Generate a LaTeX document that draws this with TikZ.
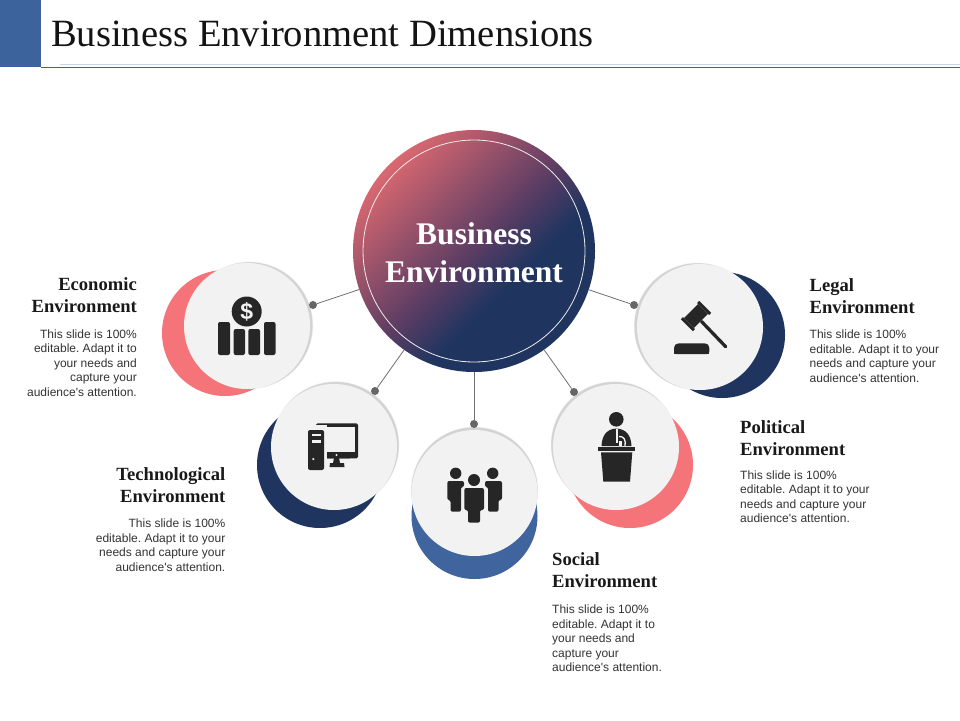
\documentclass[tikz,border=0pt]{standalone}
\usepackage{fontspec}
\setmainfont{Liberation Serif}
\newfontfamily\bodyfont{Liberation Sans}
\usetikzlibrary{calc}
\definecolor{hdrblue}{HTML}{3D639D}
\definecolor{navy}{HTML}{1F3560}
\definecolor{salmon}{HTML}{F57479}
\definecolor{midblue}{HTML}{3F649E}
\definecolor{softgray}{HTML}{F2F2F2}
\definecolor{icondark}{HTML}{262626}
\definecolor{dotgray}{HTML}{666666}
\definecolor{linegray}{HTML}{6F6F6F}
\definecolor{gradpink}{HTML}{DF6A71}
\definecolor{gradmid}{HTML}{5A3C63}
\definecolor{rulelight}{HTML}{C9D6E2}
\definecolor{ruledark}{HTML}{4D5F7A}
\pgfdeclareverticalshading{bizgrad}{100bp}{color(0bp)=(navy); color(40bp)=(navy); color(50bp)=(gradmid); color(76bp)=(gradpink); color(100bp)=(gradpink)}
\newcommand{\softshadow}[3]{%
  \foreach \r/\o in {63.8/0.02,63.6/0.02,63.4/0.03,63.2/0.03,63/0.04,62.8/0.04}{
    \fill[black,opacity=\o] ($(#1,#2)+(#3:2.6)$) circle[radius=\r];
  }}
\tikzset{
  x=1pt,y=-1pt,
  backdisc/.style={circle,minimum size=126pt,inner sep=0pt,draw=none},
  frontdisc/.style={circle,minimum size=126pt,inner sep=0pt,fill=softgray,draw=none},
  dotnode/.style={circle,minimum size=8pt,inner sep=0pt,fill=dotgray},
  spoke/.style={draw=linegray,line width=0.8pt},
  headtext/.style={font=\fontsize{18.6}{22}\selectfont\bfseries,inner sep=0pt,text=black!90},
  leftlabel/.style={headtext,align=right,anchor=north east},
  rightlabel/.style={headtext,align=left,anchor=north west},
  bodyleft/.style={font=\bodyfont\frenchspacing\fontsize{12}{14.45}\selectfont,inner sep=0pt,align=right,anchor=north east,text=black!80},
  bodyright/.style={font=\bodyfont\frenchspacing\fontsize{12}{14.45}\selectfont,inner sep=0pt,align=left,anchor=north west,text=black!80},
  iconfill/.style={fill=icondark,draw=none},
}
\begin{document}
\begin{tikzpicture}
\useasboundingbox (0,0) rectangle (960,720);
\fill[white] (0,0) rectangle (960,720);
% header
\fill[hdrblue] (0,0) rectangle (41,67);
\coordinate (ruleA) at (41,67.3);
\coordinate (ruleB) at (960,67.3);
\coordinate (ruleC) at (60,64.5);
\coordinate (ruleD) at (960,64.5);
\draw[draw=rulelight,line width=0.8pt] (ruleC) -- (ruleD);
\draw[draw=ruledark,line width=0.9pt] (ruleA) -- (ruleB);
\node[anchor=base west,inner sep=0pt,font=\fontsize{38.6}{40}\selectfont,text=black!92] (title) at (51,46) {Business Environment Dimensions};
% back discs
\node[backdisc,fill=salmon] (ecoback) at (225,333) {};
\node[backdisc,fill=navy] (techback) at (320,465) {};
\node[backdisc,fill=midblue] (socback) at (474.5,516) {};
\node[backdisc,fill=salmon] (polback) at (630,465) {};
\node[backdisc,fill=navy] (legback) at (722,335) {};
% shadows
\softshadow{247}{326}{-15}
\softshadow{334}{447}{-50}
\softshadow{474.5}{493}{-90}
\softshadow{616}{447}{-130}
\softshadow{700}{327}{-165}
% front discs
\node[frontdisc] (eco) at (247,326) {};
\node[frontdisc] (tech) at (334,447) {};
\node[frontdisc] (soc) at (474.5,493) {};
\node[frontdisc] (pol) at (616,447) {};
\node[frontdisc] (leg) at (700,327) {};
% hub
\node[circle,minimum size=242pt,inner sep=0pt,shading=bizgrad,shading angle=45] (hub) at (474,251) {};
\node[circle,minimum size=222pt,inner sep=0pt,draw=white!85!gray,line width=0.8pt] (hubring) at (474,251) {};
\node[align=center,text=white,inner sep=0pt,font=\fontsize{31.5}{38}\selectfont\bfseries] (hubtext) at (474,253) {Business\\Environment};
% dots and connectors
\node[dotnode] (d1) at (313,305) {};
\node[dotnode] (d2) at (375,391) {};
\node[dotnode] (d3) at (474,424) {};
\node[dotnode] (d4) at (574,392) {};
\node[dotnode] (d5) at (634,305) {};
\foreach \d in {d1,d2,d3,d4,d5}{\draw[spoke] (hub) -- (\d);}
% economic icon
\fill[iconfill] (246.7,311.5) circle[radius=15];
\node[font=\bodyfont\bfseries\fontsize{23}{23}\selectfont,text=softgray,inner sep=0pt] (dollar) at (246.7,311.5) {\$};
\foreach \a/\b/\c/\e in {218/230/322/355,233.7/245/329/355,248.3/260/329/355,264/275.5/322/355}{
  \fill[iconfill,rounded corners=2pt] (\a,\c) rectangle (\b,\e);
}
% computer icon
\fill[iconfill,rounded corners=1.5pt] (316,423.3) rectangle (358,458.3);
\fill[softgray] (319.5,427) rectangle (354.5,451.5);
\fill[iconfill,rounded corners=0.5pt] (327,452) rectangle (350,458.3);
\fill[softgray] (336.5,455) circle[radius=1.1];
\fill[iconfill] (334,458) -- (339,458) -- (340,463) -- (344,463) -- (344.5,467) -- (329.5,467) -- (330,463) -- (333,463) -- cycle;
\fill[softgray] (305,425) rectangle (326.5,471);
\fill[iconfill,rounded corners=2pt] (308,430) rectangle (324,470);
\fill[softgray] (311.5,433.5) rectangle (321,436);
\fill[softgray] (311.5,439.5) rectangle (321,442.5);
\fill[softgray] (313.3,459) circle[radius=1.2];
% people icon
\fill[iconfill] (455.7,473.3) circle[radius=5.7];
\fill[iconfill] (492.7,473.3) circle[radius=5.7];
\fill[iconfill,rounded corners=2pt] (447.3,481) -- (464,481) -- (464,487) -- (461,487) -- (461,511.7) -- (450.5,511.7) -- (450.5,500) -- (447.3,500) -- cycle;
\fill[iconfill,rounded corners=2pt] (502,481) -- (485,481) -- (485,487) -- (488,487) -- (488,511.7) -- (498.5,511.7) -- (498.5,500) -- (502,500) -- cycle;
\fill[iconfill] (474,480) circle[radius=6];
\fill[iconfill,rounded corners=2pt] (464.3,488) -- (484,488) -- (484,510) -- (480,510) -- (480,522.7) -- (468,522.7) -- (468,510) -- (464.3,510) -- cycle;
% speaker icon
\fill[iconfill] (616.3,419.3) circle[radius=7.3];
\fill[iconfill] (601.5,446) .. controls (602,435) and (607,429) .. (616.3,428.5) .. controls (626,429) and (631,435) .. (631.5,446) -- cycle;
\fill[softgray] (615.5,429) -- (617.5,429) -- (617.5,443) -- (615.5,443) -- cycle;
\draw[softgray,line width=1.3pt] (619,436.5) .. controls (624,436) and (626,440) .. (625,446);
\fill[softgray] (619,441) -- (622,441) -- (622,446) -- (619,446) -- cycle;
\fill[iconfill] (598,446.7) rectangle (635,451);
\fill[iconfill] (601,452.3) -- (632.3,452.3) -- (630,481.7) -- (603.3,481.7) -- cycle;
% gavel icon
\coordinate (gavelA) at (701.5,321.5);
\coordinate (gavelB) at (725.7,346.7);
\draw[icondark,line width=3.3pt,line cap=round] (gavelA) -- (gavelB);
\fill[iconfill] (698.1,304) -- (708,313.9) -- (693.9,328) -- (684,318.1) -- cycle;
\fill[iconfill] (697.1,302.9) -- (699.2,300.8) -- (711.2,312.8) -- (709.1,314.9) -- cycle;
\fill[iconfill] (682.9,317.1) -- (680.8,319.2) -- (692.8,331.2) -- (694.9,329.1) -- cycle;
\fill[iconfill,rounded corners=2.5pt] (674,354) -- (674,346) -- (677,343.3) -- (706.5,343.3) -- (709.3,346) -- (709.3,354) -- cycle;
\fill[iconfill] (674,350) rectangle (709.3,354);
% labels
\node[leftlabel] (ecot) at (137,277.5) {Economic\\Environment};
\node[bodyleft] (ecob) at (137,329.5) {This slide is 100\%\\editable. Adapt it to\\your needs and\\capture your\\audience's attention.};
\node[leftlabel] (techt) at (225.5,467.5) {Technological\\Environment};
\node[bodyleft] (techb) at (225.5,519) {This slide is 100\%\\editable. Adapt it to your\\needs and capture your\\audience's attention.};
\node[rightlabel] (soct) at (552,552.5) {Social\\Environment};
\node[bodyright] (socb) at (552,605) {This slide is 100\%\\editable. Adapt it to\\your needs and\\capture your\\audience's attention.};
\node[rightlabel] (polt) at (740,420.5) {Political\\Environment};
\node[bodyright] (polb) at (740,470.5) {This slide is 100\%\\editable. Adapt it to your\\needs and capture your\\audience's attention.};
\node[rightlabel] (legt) at (809.5,278.5) {Legal\\Environment};
\node[bodyright] (legb) at (809.5,330) {This slide is 100\%\\editable. Adapt it to your\\needs and capture your\\audience's attention.};
\end{tikzpicture}
\end{document}
